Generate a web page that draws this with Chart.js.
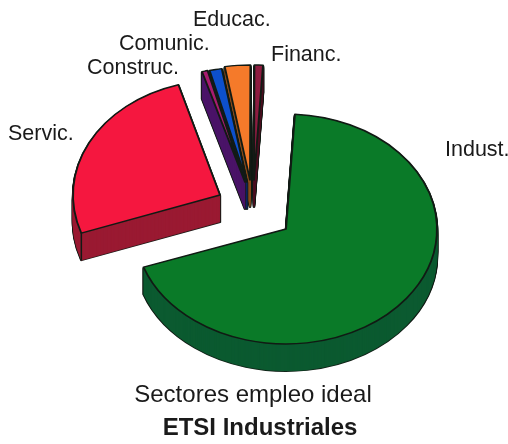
<!DOCTYPE html>
<html>
<head>
<meta charset="utf-8">
<style>html,body{margin:0;padding:0;background:#fff}canvas{display:block}</style>
<script src="https://cdn.jsdelivr.net/npm/chart.js@4"></script>
</head>
<body>
<canvas id="c" width="508" height="444"></canvas>
<script>
const categories = ['Indust.', 'Servic.', 'Construc.', 'Comunic.', 'Educac.', 'Financ.'];
const shares = [68.6, 25.8, 0.6, 1.3, 2.7, 0.9];
const chartTitle = 'Sectores empleo ideal';
const chartSubtitle = 'ETSI Industriales';

const topColors = ['#0a7a28', '#f5173f', '#a81c70', '#0d50cc', '#f57a2a', '#8e1c40'];
const wallColors = ['#0b5a30', '#9a1a32', '#4a1468', '#0b2a78', '#8a4a1a', '#4a1020'];
const outline = '#111a14';

// Where each slice's tip sits on the page (pull-out of the exploded pie).
const tips = [[286, 229], [220, 195], [245, 182], [247, 182], [250, 180], [254, 180]];
const radiiX = [151, 147, 152, 152, 152, 152];
const radiusY = 115, depth = 27;
const drawOrder = [1, 5, 4, 3, 2, 0];
const labelSpots = [[445, 150], [8, 134], [87, 68], [119, 44], [193, 20], [271, 55]];

function arcOpts(fill, line, width) {
  return {offset: 0, spacing: 0, borderRadius: 0, circular: true, angle: undefined,
    backgroundColor: fill, borderColor: line, borderWidth: width, borderAlign: 'center',
    borderJoinStyle: 'round', borderDash: [], borderDashOffset: 0};
}

const exploded3d = {
  id: 'exploded3d',
  beforeDatasetsDraw(chart) {
    const ctx = chart.ctx;
    const arcs = chart.getDatasetMeta(0).data;
    for (const i of drawOrder) {
      const arc = arcs[i];
      const saved = arc.options;
      const sx = radiiX[i] / arc.outerRadius, sy = radiusY / arc.outerRadius;
      const paint = (dy, o) => {
        ctx.save();
        ctx.translate(tips[i][0], tips[i][1] + dy);
        ctx.scale(sx, sy);
        ctx.translate(-arc.x, -arc.y);
        arc.options = o;
        arc.draw(ctx);
        ctx.restore();
      };
      for (let d = depth; d > 0; d -= 1) paint(d, arcOpts(outline, outline, 2.6));
      for (let d = depth; d > 0; d -= 1) paint(d, arcOpts(wallColors[i], wallColors[i], 0.6));
      // vertical edge at the slice's first outer corner
      const ex = tips[i][0] + radiiX[i] * Math.cos(arc.startAngle);
      const ey = tips[i][1] + radiusY * Math.sin(arc.startAngle);
      if (i === 1) {
        ctx.save();
        ctx.strokeStyle = outline;
        ctx.lineWidth = 1.5;
        ctx.beginPath();
        ctx.moveTo(ex, ey);
        ctx.lineTo(ex, ey + depth);
        ctx.stroke();
        ctx.restore();
      }
      paint(0, arcOpts(topColors[i], outline, 1.9));
      arc.options = saved;
    }
    return false;
  },
  afterDraw(chart) {
    const ctx = chart.ctx;
    ctx.save();
    ctx.fillStyle = '#1a1a1a';
    ctx.textBaseline = 'middle';
    ctx.textAlign = 'left';
    ctx.font = '21.5px "Liberation Sans", Arial, sans-serif';
    categories.forEach((name, i) => ctx.fillText(name, labelSpots[i][0], labelSpots[i][1]));
    ctx.textAlign = 'center';
    ctx.font = '24px "Liberation Sans", Arial, sans-serif';
    ctx.fillText(chartTitle, 253, 395);
    ctx.font = 'bold 24px "Liberation Sans", Arial, sans-serif';
    ctx.fillText(chartSubtitle, 260, 428);
    ctx.restore();
  }
};

new Chart(document.getElementById('c'), {
  type: 'pie',
  data: {labels: categories, datasets: [{data: shares, backgroundColor: topColors, borderWidth: 0}]},
  options: {
    responsive: false,
    animation: false,
    rotation: 3.4,
    layout: {padding: 70},
    plugins: {legend: {display: false}, tooltip: {enabled: false}, title: {display: false}}
  },
  plugins: [exploded3d]
});
</script>
</body>
</html>
